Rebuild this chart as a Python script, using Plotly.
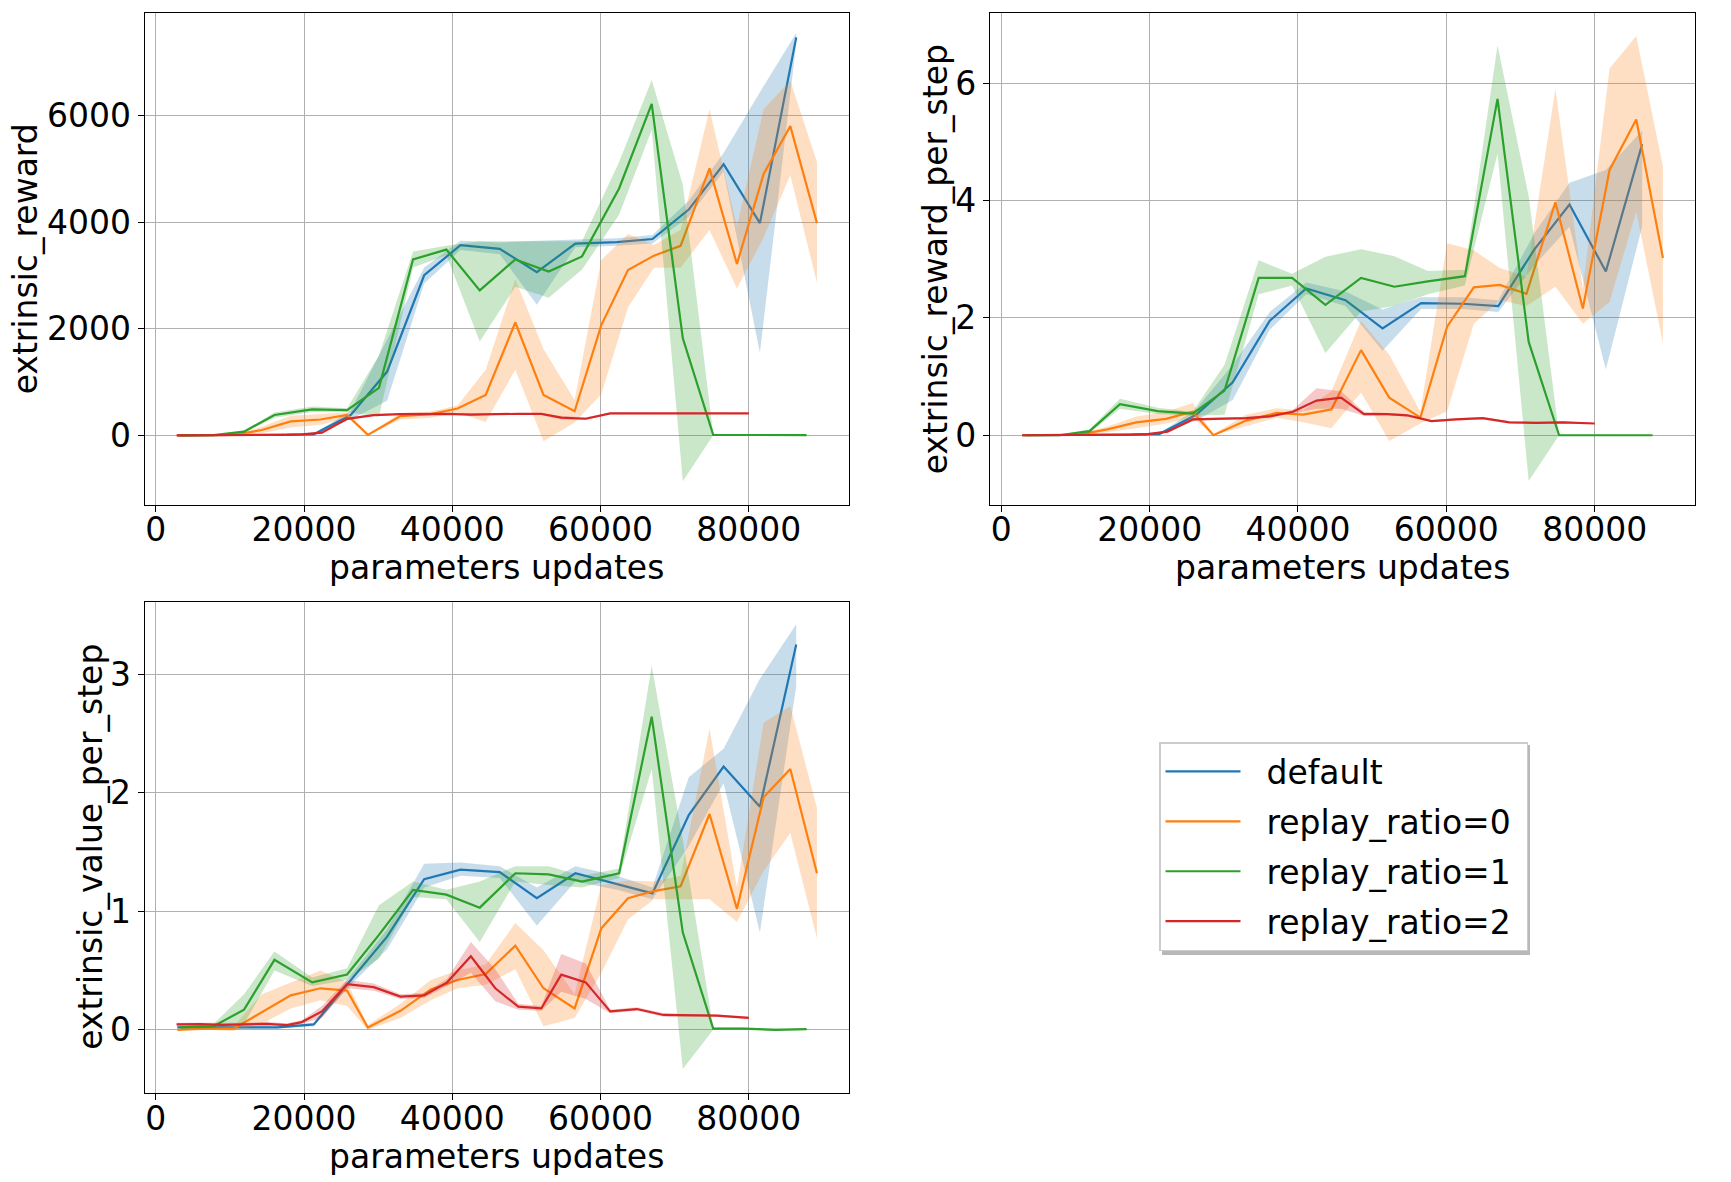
import plotly.graph_objects as go

# ---------------- data ----------------
SERIES = ["default", "replay_ratio=0", "replay_ratio=1", "replay_ratio=2"]
COLORS = ["#1f77b4", "#ff7f0e", "#2ca02c", "#d62728"]
FILLS = ["rgba(31,119,180,0.25)", "rgba(255,127,14,0.25)", "rgba(44,160,44,0.25)", "rgba(214,39,40,0.25)"]

X_DEFAULT = [2900, 6500, 11400, 16400, 21300, 26300, 31200, 36200, 41100, 46400, 51400, 56600, 62200, 67000, 71900, 76600, 81500, 86400]
X_RR0 = [2900, 6700, 10500, 14300, 18200, 22200, 25800, 28600, 33000, 37100, 40700, 44500, 48500, 52300, 56500, 60100, 63700, 67200, 70800, 74700, 78400, 82000, 85600, 89200]
X_RR1 = [3300, 7800, 11900, 16000, 21100, 25800, 30100, 34700, 39200, 43700, 48500, 53000, 57500, 62500, 66900, 71100, 75200, 79300, 83600, 87800]
X_RR2 = [2800, 6000, 8900, 11900, 15000, 17700, 19700, 22400, 25800, 29400, 33000, 36200, 39300, 42500, 45800, 48900, 52000, 54700, 58000, 61300, 64900, 68500, 72100, 75700, 80000]

# --- extrinsic_reward ---
R_DEF = [0, 5, 10, 15, 20, 383, 1197, 3004, 3571, 3500, 3061, 3599, 3627, 3684, 4237, 5087, 3982, 7467]
R_DEF_LO = [0, 0, 0, 5, 10, 300, 650, 2850, 3480, 3400, 2450, 3530, 3560, 3600, 4100, 4950, 1550, 7350]
R_DEF_HI = [0, 10, 20, 25, 30, 460, 1800, 3150, 3650, 3620, 3650, 3680, 3700, 3760, 4400, 5300, 6440, 7550]
R_RR0 = [0, 0, 10, 100, 262, 298, 383, 10, 361, 400, 503, 758, 2118, 758, 453, 2069, 3103, 3372, 3557, 5009, 3216, 4903, 5802, 3982]
R_RR0_LO = [0, 0, 0, 40, 150, 200, 330, 0, 300, 330, 430, 250, 1230, -110, 241, 770, 2400, 3146, 3146, 3854, 2756, 3712, 4881, 2862]
R_RR0_HI = [0, 5, 20, 160, 370, 400, 430, 20, 420, 450, 560, 1230, 2930, 1620, 666, 3290, 3780, 3570, 3854, 6121, 3925, 6121, 6652, 5129]
R_RR1 = [0, 5, 71, 383, 489, 475, 893, 3301, 3486, 2721, 3301, 3075, 3358, 4633, 6220, 1821, 10, 5, 5, 5]
R_RR1_LO = [0, 0, 50, 330, 440, 440, 350, 3150, 3380, 1760, 2790, 2580, 3110, 4140, 5730, -860, 0, 0, 0, 0]
R_RR1_HI = [0, 10, 90, 430, 540, 510, 1500, 3450, 3560, 3640, 3640, 3640, 3640, 5130, 6670, 4700, 20, 10, 10, 10]
R_RR2 = [0, 0, 0, 0, 5, 10, 20, 50, 310, 380, 400, 404, 404, 390, 404, 404, 404, 333, 312, 411, 411, 411, 411, 411, 411]
R_RR2_LO = [0, 0, 0, 0, 0, 0, 5, 30, 290, 365, 385, 390, 390, 370, 390, 390, 385, 300, 290, 398, 400, 400, 400, 400, 400]
R_RR2_HI = [5, 5, 5, 5, 10, 20, 35, 70, 330, 395, 415, 418, 418, 410, 418, 418, 420, 360, 340, 425, 422, 422, 422, 422, 422]

# --- extrinsic_reward_per_step ---
P_DEF = [0, 0, 0.005, 0.01, 0.02, 0.35, 0.9, 1.95, 2.5, 2.3, 1.82, 2.25, 2.24, 2.2, 3.17, 3.93, 2.79, 4.96]
P_DEF_LO = [0, 0, 0, 0, 0.01, 0.25, 0.6, 1.8, 2.4, 2.2, 1.44, 2.15, 2.15, 2.1, 2.9, 3.55, 1.12, 3.56]
P_DEF_HI = [0, 0, 0.01, 0.02, 0.03, 0.45, 1.2, 2.1, 2.6, 2.45, 2.14, 2.35, 2.35, 2.3, 3.45, 4.3, 4.52, 5.19]
P_RR0 = [0, 0, 0.01, 0.1, 0.22, 0.28, 0.4, 0, 0.25, 0.38, 0.35, 0.44, 1.45, 0.64, 0.3, 1.85, 2.52, 2.56, 2.41, 3.97, 2.16, 4.52, 5.38, 3.02]
P_RR0_LO = [0, 0, 0, 0.05, 0.12, 0.2, 0.3, 0, 0.15, 0.3, 0.22, 0.12, 0.73, -0.1, 0.2, 0.41, 1.9, 2.3, 2.2, 2.53, 1.9, 2.27, 3.81, 1.57]
P_RR0_HI = [0, 0, 0.02, 0.15, 0.32, 0.4, 0.55, 0.02, 0.35, 0.46, 0.42, 0.75, 1.95, 1.37, 0.4, 3.27, 3.15, 2.85, 2.7, 5.9, 2.5, 6.25, 6.8, 4.58]
P_RR1 = [0, 0, 0.07, 0.53, 0.41, 0.37, 0.76, 2.68, 2.68, 2.22, 2.68, 2.53, 2.62, 2.71, 5.73, 1.59, 0, 0, 0, 0]
P_RR1_LO = [0, 0, 0.04, 0.45, 0.36, 0.33, 0.35, 2.4, 2.55, 1.4, 2.11, 2.2, 2.4, 2.55, 4.8, -0.78, 0, 0, 0, 0]
P_RR1_HI = [0, 0.01, 0.1, 0.62, 0.47, 0.4, 1.2, 2.98, 2.75, 3.04, 3.17, 3.05, 2.8, 2.82, 6.64, 4.07, 0.01, 0.01, 0.01, 0.01]
P_RR2 = [0, 0, 0, 0, 0.005, 0.01, 0.02, 0.06, 0.27, 0.28, 0.29, 0.32, 0.40, 0.59, 0.64, 0.36, 0.36, 0.34, 0.24, 0.27, 0.29, 0.22, 0.21, 0.22, 0.20]
P_RR2_LO = [0, 0, 0, 0, 0, 0, 0.01, 0.04, 0.25, 0.26, 0.27, 0.3, 0.37, 0.45, 0.45, 0.33, 0.34, 0.32, 0.22, 0.25, 0.27, 0.2, 0.19, 0.2, 0.19]
P_RR2_HI = [0.01, 0.01, 0.01, 0.01, 0.01, 0.02, 0.03, 0.08, 0.29, 0.3, 0.31, 0.34, 0.43, 0.8, 0.75, 0.4, 0.38, 0.36, 0.26, 0.29, 0.31, 0.24, 0.23, 0.24, 0.21]

# --- extrinsic_value_per_step ---
V_DEF = [0.02, 0.02, 0.02, 0.02, 0.045, 0.42, 0.785, 1.27, 1.35, 1.33, 1.11, 1.32, 1.23, 1.15, 1.81, 2.22, 1.88, 3.25]
V_DEF_LO = [0.01, 0.01, 0.01, 0.01, 0.03, 0.38, 0.68, 1.2, 1.3, 1.28, 0.88, 1.25, 1.18, 1.1, 1.55, 2.08, 0.82, 2.9]
V_DEF_HI = [0.03, 0.03, 0.03, 0.03, 0.06, 0.46, 0.85, 1.4, 1.41, 1.38, 1.2, 1.38, 1.3, 1.2, 2.13, 2.37, 2.96, 3.42]
V_RR0 = [0.0, 0.01, 0.01, 0.15, 0.29, 0.35, 0.33, 0.02, 0.16, 0.34, 0.42, 0.47, 0.71, 0.35, 0.18, 0.855, 1.11, 1.17, 1.21, 1.82, 1.02, 1.96, 2.2, 1.32]
V_RR0_LO = [0, 0, -0.01, 0.05, 0.18, 0.25, 0.2, 0, 0.1, 0.25, 0.35, 0.38, 0.51, 0.03, 0.1, 0.48, 0.93, 1.1, 1.1, 1.1, 0.91, 1.34, 1.66, 0.77]
V_RR0_HI = [0.01, 0.02, 0.03, 0.3, 0.4, 0.5, 0.4, 0.04, 0.22, 0.42, 0.5, 0.55, 0.9, 0.67, 0.3, 1.22, 1.26, 1.25, 1.3, 2.54, 1.2, 2.59, 2.73, 1.87]
V_RR1 = [0.02, 0.03, 0.17, 0.59, 0.40, 0.466, 0.8, 1.18, 1.14, 1.03, 1.32, 1.31, 1.25, 1.32, 2.64, 0.82, 0.01, 0.01, 0.0, 0.005]
V_RR1_LO = [0.01, 0.01, 0.05, 0.5, 0.37, 0.42, 0.6, 1.12, 1.1, 0.74, 1.25, 1.22, 1.2, 1.28, 2.2, -0.33, 0.0, 0.0, 0.0, 0.0]
V_RR1_HI = [0.03, 0.05, 0.3, 0.66, 0.44, 0.52, 1.05, 1.25, 1.18, 1.25, 1.38, 1.38, 1.3, 1.36, 3.07, 1.6, 0.02, 0.02, 0.01, 0.01]
V_RR2 = [0.045, 0.048, 0.042, 0.045, 0.05, 0.04, 0.065, 0.155, 0.385, 0.36, 0.28, 0.29, 0.40, 0.62, 0.35, 0.195, 0.18, 0.465, 0.40, 0.155, 0.175, 0.125, 0.12, 0.12, 0.10]
V_RR2_LO = [0.03, 0.03, 0.03, 0.03, 0.035, 0.03, 0.05, 0.1, 0.35, 0.33, 0.26, 0.27, 0.37, 0.48, 0.24, 0.17, 0.16, 0.32, 0.26, 0.14, 0.16, 0.11, 0.11, 0.11, 0.09]
V_RR2_HI = [0.06, 0.06, 0.055, 0.06, 0.065, 0.055, 0.08, 0.2, 0.42, 0.39, 0.3, 0.31, 0.43, 0.74, 0.51, 0.22, 0.2, 0.64, 0.56, 0.17, 0.19, 0.14, 0.13, 0.13, 0.11]

X_TICKS = [0, 20000, 40000, 60000, 80000]
Y_LABELS = ["extrinsic_reward", "extrinsic_reward_per_step", "extrinsic_value_per_step"]
X_LABEL = "parameters updates"

XS = [X_DEFAULT, X_RR0, X_RR1, X_RR2]
PANELS = [
    [(R_DEF, R_DEF_LO, R_DEF_HI), (R_RR0, R_RR0_LO, R_RR0_HI), (R_RR1, R_RR1_LO, R_RR1_HI), (R_RR2, R_RR2_LO, R_RR2_HI)],
    [(P_DEF, P_DEF_LO, P_DEF_HI), (P_RR0, P_RR0_LO, P_RR0_HI), (P_RR1, P_RR1_LO, P_RR1_HI), (P_RR2, P_RR2_LO, P_RR2_HI)],
    [(V_DEF, V_DEF_LO, V_DEF_HI), (V_RR0, V_RR0_LO, V_RR0_HI), (V_RR1, V_RR1_LO, V_RR1_HI), (V_RR2, V_RR2_LO, V_RR2_HI)],
]

# ---------------- layout geometry ----------------
W, H = 1731, 1182
FONT = "DejaVu Sans"
FS = 33
NBSP = "\u00a0"
# axes boxes in pixels: (left, right, top, bottom)
BOXES = [(144.6, 849.0, 13.2, 504.5), (990.0, 1695.0, 13.2, 504.5), (144.6, 849.0, 601.7, 1093.0)]
Y_RANGES = [[-1297, 7921], [-1.18, 7.19], [-0.533, 3.61]]
Y_DTICK = [2000, 2, 1]
YTITLE_X = [25.5, 935.5, 90.5]
LEG_POS = (1159, 742)        # legend top-left (px)
LEG_SHADOW = (1159, 742, 1527, 952)  # approximate legend box for the drop shadow

fig = go.Figure()

for p, panel in enumerate(PANELS):
    xa = "x" if p == 0 else f"x{p+1}"
    ya = "y" if p == 0 else f"y{p+1}"
    for s, (mean, lo, hi) in enumerate(panel):
        x = XS[s]
        fig.add_trace(go.Scatter(
            x=x, y=mean, mode="lines", name=NBSP * 2 + SERIES[s] + NBSP,
            legendgroup=SERIES[s],
            line=dict(color=COLORS[s], width=2.2),
            xaxis=xa, yaxis=ya, showlegend=(p == 0), legendrank=s + 1,
            hoverinfo="skip"))
        fig.add_trace(go.Scatter(
            x=list(x) + list(x)[::-1], y=list(hi) + list(lo)[::-1],
            mode="lines", fill="toself", fillcolor=FILLS[s], legendgroup=SERIES[s],
            line=dict(width=0, color=FILLS[s]),
            xaxis=xa, yaxis=ya, showlegend=False, hoverinfo="skip"))

all_x = [v for xs in XS for v in xs]
xmin, xmax = min(all_x), max(all_x)
pad = (xmax - xmin) * 0.05
x_range = [xmin - pad, xmax + pad]

axis_common = dict(
    showgrid=True, gridcolor="#b0b0b0", gridwidth=1.1,
    zeroline=False, showline=True, linecolor="black", linewidth=1.2,
    mirror=True, ticks="outside", ticklen=6, tickwidth=1.2, tickcolor="black",
    tickfont=dict(family=FONT, size=FS, color="black"),
)

layout_axes = {}
annotations = []
for p, (l, r, t, b) in enumerate(BOXES):
    sfx = "" if p == 0 else str(p + 1)
    layout_axes[f"xaxis{sfx}"] = dict(
        axis_common, domain=[l / W, r / W], range=x_range,
        tickvals=X_TICKS, ticktext=[str(v) for v in X_TICKS],
        ticklabelstandoff=-10,
        anchor=f"y{sfx}")
    layout_axes[f"yaxis{sfx}"] = dict(
        axis_common, domain=[1 - b / H, 1 - t / H], range=Y_RANGES[p],
        dtick=Y_DTICK[p], tick0=0, tickformat="d" if p == 0 else "",
        anchor=f"x{sfx}")
    annotations.append(dict(
        text=Y_LABELS[p], textangle=-90, showarrow=False,
        xref="paper", yref="paper", x=YTITLE_X[p] / W, y=1 - (t + b) / 2 / H,
        xanchor="center", yanchor="middle",
        font=dict(family=FONT, size=FS, color="black")))
    annotations.append(dict(
        text=X_LABEL, showarrow=False,
        xref="paper", yref="paper", x=(l + r) / 2 / W, y=1 - (b + 63) / H,
        xanchor="center", yanchor="middle",
        font=dict(family=FONT, size=FS, color="black")))

# legend drop shadow (drawn under the legend box)
sl, st, sr, sb = LEG_SHADOW
shapes = [dict(type="rect", xref="paper", yref="paper",
               x0=(sl + 3) / W, x1=(sr + 3) / W, y0=1 - (sb + 3) / H, y1=1 - (st + 3) / H,
               fillcolor="rgba(0,0,0,0.28)", line=dict(width=0), layer="below")]

fig.update_layout(
    width=W, height=H,
    margin=dict(l=0, r=0, t=0, b=0),
    paper_bgcolor="white", plot_bgcolor="white",
    font=dict(family=FONT, size=FS, color="black"),
    annotations=annotations,
    shapes=shapes,
    legend=dict(
        x=LEG_POS[0] / W, y=1 - LEG_POS[1] / H, xanchor="left", yanchor="top",
        bgcolor="white", bordercolor="#cccccc", borderwidth=1.5,
        font=dict(family=FONT, size=FS, color="black"),
        itemwidth=75, tracegroupgap=4),
    **layout_axes,
)

fig.write_html("out.html", config={"displayModeBar": False},
               post_script="document.body.style.margin='0';document.body.style.overflow='hidden';")
